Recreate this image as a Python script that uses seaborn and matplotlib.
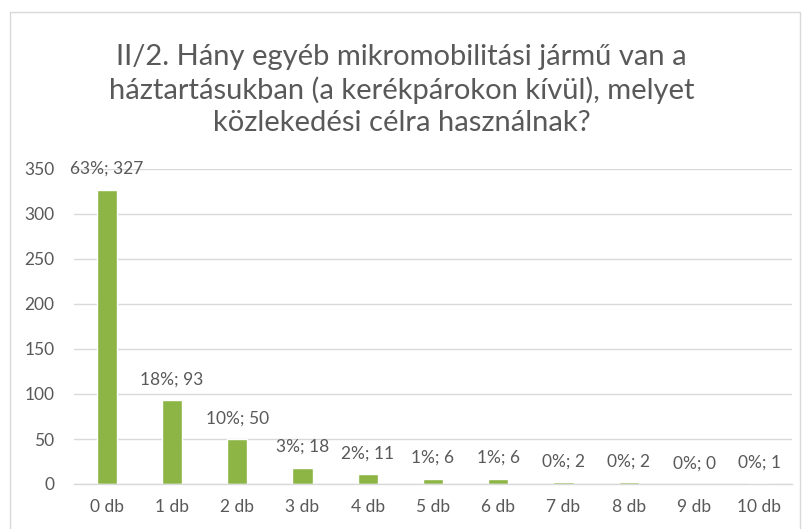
import matplotlib
matplotlib.use("Agg")
import matplotlib.pyplot as plt
import seaborn as sns
import pandas as pd
from matplotlib.patches import Rectangle

categories = ["0 db", "1 db", "2 db", "3 db", "4 db", "5 db", "6 db", "7 db", "8 db", "9 db", "10 db"]
counts = [327, 93, 50, 18, 11, 6, 6, 2, 2, 0, 1]
percents = ["63%", "18%", "10%", "3%", "2%", "1%", "1%", "0%", "0%", "0%", "0%"]
title = "II/2. Hány egyéb mikromobilitási jármű van a\nháztartásukban (a kerékpárokon kívül), melyet\nközlekedési célra használnak?"

sns.set_theme(style="white")
plt.rcParams['font.family'] = ['Lato', 'DejaVu Sans']

TEXT = "#595959"
GREEN = "#8CB546"
GRID = "#D9D9D9"

df = pd.DataFrame({"cat": categories, "n": counts, "pct": percents})

fig = plt.figure(figsize=(8.03, 5.29), dpi=100)
ax = fig.add_axes([74/803, 1-484/529, (792-74)/803, (484-169)/529])

sns.barplot(data=df, x="cat", y="n", color=GREEN, width=0.31, ax=ax, saturation=1)

ax.set_ylim(0, 350)
ax.set_xlim(-0.5, len(categories)-0.5)
ax.set_yticks(range(0, 351, 50))
ax.yaxis.grid(True, color=GRID, linewidth=1)
ax.set_axisbelow(True)
for s in ["top", "right", "left"]:
    ax.spines[s].set_visible(False)
ax.spines["bottom"].set_color(GRID)
ax.spines["bottom"].set_linewidth(1)
ax.set_xlabel("")
ax.set_ylabel("")
ax.tick_params(axis="both", length=0, labelsize=12.5, labelcolor=TEXT)
ax.tick_params(axis="x", pad=11)
ax.tick_params(axis="y", pad=14)

for i, (n, p) in enumerate(zip(counts, percents)):
    ax.annotate(f"{p}; {n}", (i, n), xytext=(0, 15), textcoords="offset points",
                ha="center", va="center", fontsize=12.5, color=TEXT)

fig.text(0.5, 1-90/529, title, ha="center", va="center", fontsize=21, color=TEXT,
         linespacing=1.27)

fig.patches.append(Rectangle((10/803, -0.01), (800-10)/803, 1-12/529+0.01,
                             transform=fig.transFigure, fill=False,
                             edgecolor="#D9D9D9", linewidth=1))

fig.savefig("out.png", dpi=100)
